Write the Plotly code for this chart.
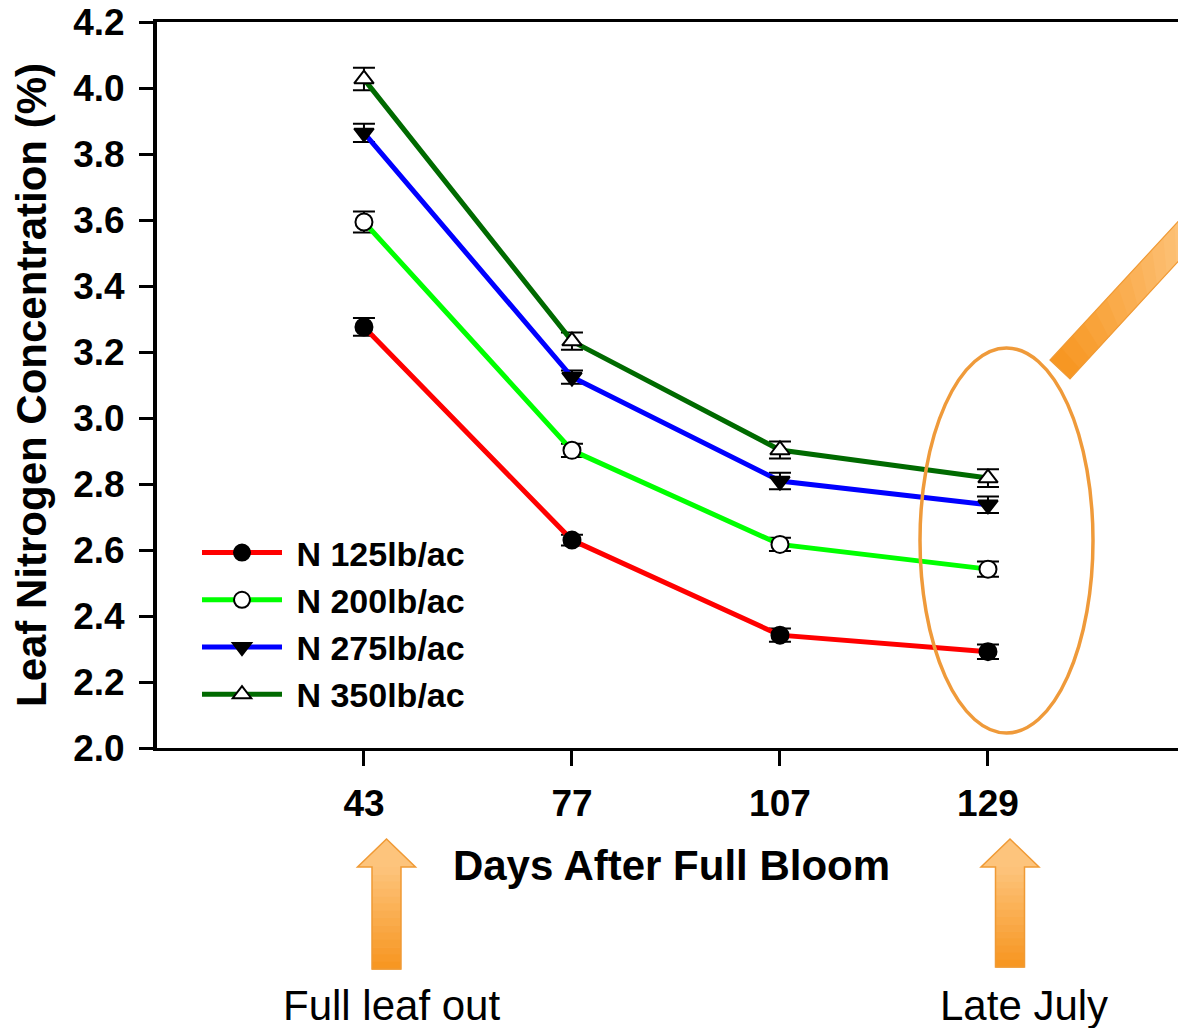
import plotly.graph_objects as go

# ---------------- data ----------------
days = ["43", "77", "107", "129"]
series_names = ["N 125lb/ac", "N 200lb/ac", "N 275lb/ac", "N 350lb/ac"]
n125 = [3.276, 2.630, 2.342, 2.292]
n200 = [3.594, 2.902, 2.617, 2.542]
n275 = [3.864, 3.124, 2.809, 2.737]
n350 = [4.027, 3.233, 2.903, 2.818]
err125 = [0.027, 0.016, 0.020, 0.022]
err200 = [0.032, 0.020, 0.020, 0.023]
err275 = [0.028, 0.020, 0.025, 0.025]
err350 = [0.034, 0.026, 0.026, 0.027]
y_ticks = [2.0, 2.2, 2.4, 2.6, 2.8, 3.0, 3.2, 3.4, 3.6, 3.8, 4.0, 4.2]
notes = ["Full leaf out", "Late July"]
y_title = "Leaf Nitrogen Concentration (%)"
x_title = "Days After Full Bloom"

OFF = 8  # default page body margin
W, H = 1186 - OFF, 1028 - OFF
L, T = 157 - OFF, 22 - OFF
B = H - (748 - OFF)
R = 0
PW, PH = W - L - R, H - T - B

def px(x):
    return (x - OFF - L) / PW

def py(y):
    return (H - B - (y - OFF)) / PH

FONT = "Liberation Sans, Arial, Helvetica, sans-serif"

fig = go.Figure()

styles = [
    (n125, err125, "#ff0000", "circle", "black", "black"),
    (n200, err200, "#00ff00", "circle", "white", "black"),
    (n275, err275, "#0000ff", "triangle-down", "black", "black"),
    (n350, err350, "#006a00", "triangle-up", "white", "black"),
]
for i, (vals, errs, col, sym, fill, edge) in enumerate(styles):
    fig.add_trace(go.Scatter(
        x=days, y=vals, name="\u00a0" + series_names[i], mode="lines+markers",
        line=dict(color=col, width=5),
        marker=dict(symbol=sym, size=17, color=fill,
                    line=dict(color=edge, width=2)),
        error_y=dict(type="data", array=errs, visible=True,
                     color="black", thickness=2, width=11),
        cliponaxis=False,
    ))

shapes = []

def lerp_col(c1, c2, t):
    a = [int(c1[i:i + 2], 16) for i in (1, 3, 5)]
    b = [int(c2[i:i + 2], 16) for i in (1, 3, 5)]
    return "#%02x%02x%02x" % tuple(round(a[k] + (b[k] - a[k]) * t) for k in range(3))

LIGHT, DARK, EDGE = "#fdc47c", "#f7951f", "#f09a35"

def up_arrow(cx, tip, hbase, hhalf, shalf, bottom):
    path = "M %f,%f L %f,%f L %f,%f Z" % (px(cx), py(tip), px(cx - hhalf), py(hbase),
                                          px(cx + hhalf), py(hbase))
    shapes.append(dict(type="path", xref="paper", yref="paper", path=path,
                       fillcolor=LIGHT, line=dict(width=0), layer="above"))
    n = 14
    for k in range(n):
        y0 = hbase + (bottom - hbase) * k / n
        y1 = hbase + (bottom - hbase) * (k + 1) / n + 0.6
        shapes.append(dict(type="rect", xref="paper", yref="paper",
                           x0=px(cx - shalf), x1=px(cx + shalf), y0=py(y1), y1=py(y0),
                           fillcolor=lerp_col(LIGHT, DARK, (k + 0.5) / n),
                           line=dict(width=0), layer="above"))
    outline = "M %f,%f L %f,%f L %f,%f L %f,%f L %f,%f L %f,%f L %f,%f Z" % (
        px(cx), py(tip), px(cx + hhalf), py(hbase), px(cx + shalf), py(hbase),
        px(cx + shalf), py(bottom), px(cx - shalf), py(bottom),
        px(cx - shalf), py(hbase), px(cx - hhalf), py(hbase))
    shapes.append(dict(type="path", xref="paper", yref="paper", path=outline,
                       line=dict(color=EDGE, width=1.5), layer="above"))

up_arrow(386.5, 839, 867, 29, 14.5, 969)
up_arrow(1010, 839, 867, 29, 14.5, 967)

# diagonal bar (upper right)
p_a = (1050, 360); p_b = (1070, 379); p_c = (1186, 253); p_d = (1186, 213)
n = 12
for k in range(n):
    t0, t1 = k / n, (k + 1) / n + 0.01
    a0 = (p_a[0] + (p_d[0] - p_a[0]) * t0, p_a[1] + (p_d[1] - p_a[1]) * t0)
    a1 = (p_a[0] + (p_d[0] - p_a[0]) * t1, p_a[1] + (p_d[1] - p_a[1]) * t1)
    b0 = (p_b[0] + (p_c[0] - p_b[0]) * t0, p_b[1] + (p_c[1] - p_b[1]) * t0)
    b1 = (p_b[0] + (p_c[0] - p_b[0]) * t1, p_b[1] + (p_c[1] - p_b[1]) * t1)
    path = "M %f,%f L %f,%f L %f,%f L %f,%f Z" % (px(a0[0]), py(a0[1]), px(b0[0]), py(b0[1]),
                                                  px(b1[0]), py(b1[1]), px(a1[0]), py(a1[1]))
    shapes.append(dict(type="path", xref="paper", yref="paper", path=path,
                       fillcolor=lerp_col(DARK, LIGHT, (k + 0.5) / n),
                       line=dict(width=0), layer="above"))
shapes.append(dict(type="path", xref="paper", yref="paper",
                   path="M %f,%f L %f,%f L %f,%f L %f,%f Z" % (
                       px(p_a[0]), py(p_a[1]), px(p_b[0]), py(p_b[1]),
                       px(p_c[0]), py(p_c[1]), px(p_d[0]), py(p_d[1])),
                   line=dict(color=EDGE, width=1.2), layer="above"))

# ellipse
shapes.append(dict(type="circle", xref="paper", yref="paper",
                   x0=px(920), x1=px(1093), y0=py(733), y1=py(348),
                   line=dict(color="#ef9a3a", width=3.5), layer="above"))

annotations = [
    dict(text=notes[0], x=px(391), y=py(1005), xref="paper", yref="paper",
         showarrow=False, font=dict(family=FONT, size=42, color="black"),
         xanchor="center", yanchor="middle"),
    dict(text=notes[1], x=px(1024), y=py(1005), xref="paper", yref="paper",
         showarrow=False, font=dict(family=FONT, size=42, color="black"),
         xanchor="center", yanchor="middle"),
    dict(text="<b>%s</b>" % y_title, x=px(31), y=py(385), xref="paper", yref="paper",
         showarrow=False, textangle=-90,
         font=dict(family=FONT, size=42, color="black"),
         xanchor="center", yanchor="middle"),
]

fig.update_layout(
    width=W, height=H,
    margin=dict(l=L, r=R, t=T, b=B, pad=0, autoexpand=False),
    paper_bgcolor="white", plot_bgcolor="white",
    font=dict(family=FONT, color="black"),
    shapes=shapes, annotations=annotations,
    showlegend=True,
    legend=dict(x=px(197), y=py(524), xanchor="left", yanchor="top",
                bgcolor="rgba(0,0,0,0)", itemwidth=80, tracegroupgap=0,
                font=dict(family=FONT, size=34, color="black", weight="bold"),
                traceorder="normal"),
    xaxis=dict(type="category", range=[-0.995, 3.952], automargin=False,
               showline=True, linecolor="black", linewidth=3, mirror=True,
               ticks="outside", ticklen=15, tickwidth=2.5, tickcolor="black",
               ticklabelstandoff=6, ticklabeloverflow="allow",
               tickfont=dict(family=FONT, size=37, color="black", weight="bold"),
               showgrid=False, zeroline=False,
               title=dict(text=x_title, standoff=28,
                          font=dict(family=FONT, size=42, color="black", weight="bold"))),
    yaxis=dict(range=[2.0, 4.2], tickvals=y_ticks, tickformat=".1f", automargin=False,
               showline=True, linecolor="black", linewidth=4,
               ticks="outside", ticklen=14, tickwidth=2.5, tickcolor="black",
               ticklabelstandoff=7, ticklabeloverflow="allow",
               tickfont=dict(family=FONT, size=37, color="black", weight="bold"),
               showgrid=False, zeroline=False),
)

fig.write_html("out.html")
